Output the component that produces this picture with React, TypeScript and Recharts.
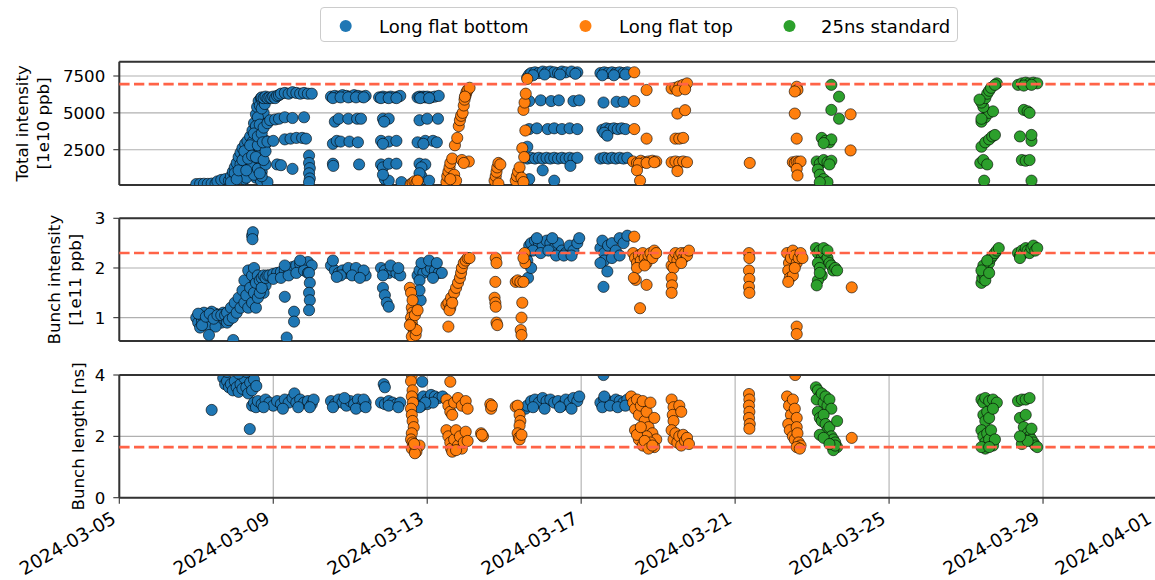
import React from 'react';
import { ScatterChart, Scatter, XAxis, YAxis, CartesianGrid, ReferenceLine } from 'recharts';

const FONT = '"DejaVu Sans", "Liberation Sans", sans-serif';
const FRAME = '#333333';
const GRID = '#b0b0b0';
const TARGET = '#ff6347';

// x values: days since 2024-03-05 00:00
const tickDays = [0, 4, 8, 12, 16, 20, 24, 27];
const tickLabels = [
  '2024-03-05', '2024-03-09', '2024-03-13', '2024-03-17',
  '2024-03-21', '2024-03-25', '2024-03-29', '2024-04-01',
];

const seriesNames = ['Long flat bottom', 'Long flat top', '25ns standard'];
const seriesColors = ['#1f77b4', '#ff7f0e', '#2ca02c'];

type Pt = [number, number];

// ---- Total intensity [1e10 ppb] ----
const lfbTotal: Pt[] = [
  [2.0, 170], [2.1, 180], [2.2, 190], [2.3, 180], [2.4, 200], [2.5, 190], [2.6, 220], [2.7, 250], [2.76, 300],
  [2.55, 350], [2.65, 450], [2.75, 500],
  [2.85, 400], [2.9, 700], [2.95, 1000], [3.0, 1300], [3.05, 1600], [3.1, 2000], [3.15, 2300], [3.2, 2600],
  [3.27, 2900], [3.33, 3100], [3.4, 3400], [3.46, 3800], [3.5, 4300], [3.55, 4900], [3.58, 5400], [3.62, 5800], [3.68, 6000],
  [3.0, 400], [3.1, 800], [3.2, 1200], [3.25, 500], [3.3, 1700], [3.35, 900], [3.4, 2200], [3.45, 1400], [3.5, 2700],
  [3.55, 600], [3.55, 3300], [3.6, 1900], [3.62, 3900], [3.65, 2500], [3.7, 4400], [3.7, 1000], [3.75, 3000], [3.75, 5000],
  [3.6, 4700], [3.55, 4100], [3.45, 3000], [3.35, 2500], [3.25, 2000], [3.15, 1500], [3.8, 3100], [3.8, 2900], [3.68, 400],
  [3.85, 300], [3.3, 600], [3.5, 800], [3.6, 1200], [3.7, 700], [3.8, 1500], [3.65, 5500], [3.72, 5800],
  [2.9, 300], [3.0, 900], [3.05, 500], [3.1, 1100], [3.2, 1800], [3.25, 2400], [3.3, 1100], [3.35, 1900], [3.4, 2800],
  [3.45, 2100], [3.5, 3600], [3.55, 2000], [3.6, 2800], [3.6, 3400], [3.65, 4200], [3.65, 900], [3.7, 3600], [3.7, 5300],
  [3.75, 4000], [3.75, 1800], [3.8, 2400], [3.78, 5600], [3.85, 4300],
  [3.7, 6050], [3.75, 6000], [3.8, 6100], [3.85, 6000], [3.9, 6050], [3.95, 6000], [4.0, 6100], [4.05, 6000], [4.1, 6150],
  [4.15, 6200], [4.2, 6300], [4.3, 6350], [4.4, 6300], [4.5, 6400], [4.6, 6350], [4.7, 6300], [4.8, 6350], [4.9, 6300], [5.0, 6300],
  [3.92, 4500], [4.05, 4550], [4.15, 4600], [4.3, 4700], [4.5, 4650], [4.8, 4700],
  [3.73, 3000], [3.85, 3050], [4.0, 3100], [4.3, 3200], [4.45, 3250], [4.6, 3300], [4.75, 3300], [4.85, 3250],
  [4.1, 1500], [4.2, 1450], [4.5, 1200],
  [4.93, 2100], [4.93, 1600], [4.95, 1250], [4.93, 900], [4.95, 550], [4.93, 300],
  [5.5, 6100], [5.6, 6150], [5.7, 6100], [5.8, 6200], [5.9, 6150], [6.0, 6100], [6.1, 6200], [6.2, 6150], [6.3, 6100], [6.4, 6150],
  [5.55, 6000], [5.75, 6050], [5.95, 6050], [6.15, 6050], [6.35, 6050],
  [5.6, 4400], [5.7, 4600], [5.95, 4600], [6.18, 4600], [6.28, 4600],
  [5.55, 2900], [5.65, 3100], [5.75, 3050], [5.98, 3050], [6.2, 3000],
  [5.55, 1550], [5.56, 1400], [6.23, 1500],
  [6.75, 6050], [6.85, 6100], [6.95, 6050], [7.05, 6100], [7.15, 6050], [7.25, 6100], [7.3, 6150], [6.8, 6000], [7.0, 6000], [7.2, 6000],
  [6.85, 4600], [7.0, 4600], [6.88, 4400],
  [6.8, 3100], [7.0, 3050], [7.2, 3100], [6.85, 2900],
  [6.8, 1500], [6.85, 1300], [7.0, 1550], [7.2, 1550],
  [6.9, 500], [7.0, 400], [7.33, 300], [6.85, 800],
  [7.75, 6050], [7.8, 6100], [7.85, 6050], [7.9, 6100], [7.95, 6050], [8.0, 6100], [8.1, 6050], [8.2, 6100], [8.3, 6150], [7.82, 6000], [8.05, 6000],
  [7.8, 4500], [8.0, 4600], [8.28, 4600],
  [7.75, 3000], [7.95, 3100], [8.15, 3100], [8.25, 3000], [7.9, 2900],
  [7.8, 1550], [7.95, 1500], [7.85, 1300],
  [7.85, 700], [8.05, 400], [7.8, 900], [7.75, 200],
  [10.6, 7400], [10.65, 7600], [10.7, 7700], [10.8, 7750], [10.9, 7700], [11.0, 7800], [11.1, 7750], [11.2, 7800], [11.3, 7750],
  [11.4, 7700], [11.5, 7800], [11.6, 7750], [11.75, 7800], [11.9, 7750], [10.75, 7550], [11.05, 7600], [11.45, 7600], [11.85, 7650],
  [12.5, 7700], [12.6, 7750], [12.7, 7700], [12.8, 7750], [12.9, 7700], [13.0, 7750], [13.1, 7700], [13.2, 7750],
  [12.55, 7550], [12.85, 7550], [13.15, 7600],
  [10.65, 5800], [10.95, 5850], [11.22, 5800], [11.42, 5850], [11.8, 5800], [11.95, 5850], [12.58, 5700], [12.92, 5750], [13.1, 5750],
  [10.65, 3900], [10.85, 3950], [11.13, 3900], [11.3, 3950], [11.5, 3900], [11.7, 3950], [11.9, 3900],
  [12.55, 3850], [12.65, 3950], [12.75, 3900], [12.85, 3950], [12.95, 3900], [13.05, 3950], [13.15, 3900], [12.6, 3650], [12.68, 3450],
  [10.6, 1900], [10.7, 1950], [10.8, 1900], [10.9, 1950], [11.0, 1900], [11.1, 1950], [11.2, 1900], [11.3, 1950], [11.4, 1900],
  [11.5, 1950], [11.6, 1900], [11.7, 1950], [11.8, 1900], [11.9, 1950], [12.5, 1900], [12.6, 1950], [12.7, 1900], [12.8, 1950],
  [12.9, 1900], [13.0, 1950], [13.1, 1900], [13.2, 1950], [11.72, 1400],
  [10.65, 500], [11.3, 400], [11.0, 1100], [10.6, 2700],
];

const lftTotal: Pt[] = [
  [7.57, 150], [7.62, 250], [7.67, 350], [7.72, 250], [7.75, 400],
  [8.5, 300], [8.52, 700], [8.55, 1000], [8.58, 1300], [8.6, 1600], [8.65, 1900], [8.7, 800], [8.75, 400], [8.6, 500],
  [8.72, 2800], [8.78, 3300], [8.82, 4100], [8.85, 4500], [8.88, 4800], [8.92, 5000], [8.95, 5500], [8.97, 5900],
  [9.0, 6200], [9.02, 6400], [9.05, 6550], [9.1, 6700], [8.98, 6100], [9.08, 1700], [8.9, 1800], [8.95, 1600],
  [9.75, 400], [9.78, 700], [9.8, 1000], [9.82, 1300], [9.85, 1600], [9.9, 1500], [9.85, 200],
  [10.3, 400], [10.33, 700], [10.36, 1000], [10.4, 1300], [10.45, 600], [10.5, 300], [10.47, 2600],
  [10.5, 5200], [10.53, 5700], [10.56, 6300], [10.6, 7300], [10.55, 3800], [10.52, 2000],
  [13.38, 7750], [13.38, 5800], [13.38, 3900], [13.7, 6550], [13.7, 3250],
  [13.35, 1700], [13.45, 1600], [13.55, 1750], [13.65, 1650], [13.75, 1700], [13.85, 1750], [13.95, 1700],
  [13.5, 1550], [13.7, 1600], [13.9, 1650], [13.45, 1100], [13.53, 400],
  [14.35, 6650], [14.45, 6700], [14.55, 6800], [14.65, 6900], [14.75, 7000], [14.5, 6500], [14.7, 6600],
  [14.5, 4950], [14.7, 5180], [14.45, 3250], [14.55, 3250], [14.65, 3300],
  [14.35, 1650], [14.45, 1700], [14.55, 1650], [14.65, 1700], [14.75, 1650], [14.5, 1050],
  [16.38, 1600],
  [17.6, 6770], [17.62, 6550], [17.55, 6450], [17.55, 4950], [17.6, 3250], [17.5, 1650], [17.55, 1600], [17.6, 1700],
  [17.65, 1650], [17.7, 1700], [17.6, 1200], [17.62, 750],
  [19.0, 4900], [19.0, 2450],
];

const stdTotal: Pt[] = [
  [18.5, 6900], [18.7, 6100], [18.5, 5200], [18.7, 4600],
  [18.25, 3300], [18.35, 3100], [18.45, 3000], [18.5, 3200], [18.3, 2950],
  [18.12, 1700], [18.2, 1550], [18.3, 1800], [18.4, 1650], [18.5, 1750], [18.45, 1500],
  [18.15, 1150], [18.2, 800], [18.3, 500], [18.4, 300], [18.2, 300],
  [22.47, 400], [22.37, 1600], [22.45, 1800], [22.55, 1500], [22.4, 2700], [22.5, 3000], [22.6, 3200], [22.68, 3400],
  [22.75, 3500], [22.4, 4400], [22.5, 4700], [22.6, 5000], [22.7, 5100], [22.45, 5400], [22.4, 5700], [22.5, 6000],
  [22.55, 6300], [22.6, 6500], [22.65, 6700], [22.8, 7000], [22.35, 5900], [22.4, 4600], [22.75, 6900],
  [23.35, 6900], [23.45, 7000], [23.55, 7050], [23.65, 7000], [23.75, 7050], [23.85, 7000], [23.5, 6850], [23.7, 6900],
  [23.5, 5200], [23.6, 5100], [23.65, 5000],
  [23.4, 3400], [23.7, 3100], [23.7, 3500],
  [23.45, 1800], [23.55, 1750], [23.65, 1800],
  [23.7, 400],
];

// ---- Bunch intensity [1e11 ppb] ----
const lfbBunch: Pt[] = [
  [2.0, 1.0], [2.05, 0.9], [2.1, 1.05], [2.15, 0.95], [2.2, 1.0], [2.25, 0.88], [2.3, 1.05], [2.35, 0.95], [2.4, 1.0],
  [2.45, 0.9], [2.5, 1.08], [2.55, 0.95], [2.6, 1.0], [2.65, 0.9], [2.7, 1.1], [2.75, 0.95], [2.1, 0.8], [2.3, 0.85],
  [2.5, 0.82], [2.2, 1.1], [2.4, 1.12], [2.33, 0.65], [2.96, 0.55],
  [2.05, 1.08], [2.15, 0.85], [2.25, 1.02], [2.35, 1.08], [2.45, 0.98], [2.55, 1.05], [2.65, 1.05], [2.75, 1.05],
  [2.8, 0.9], [2.9, 1.05], [3.0, 1.15], [3.1, 1.25], [3.2, 1.35], [3.3, 1.6], [3.4, 1.75], [3.5, 1.7], [3.6, 1.6],
  [3.7, 1.7], [3.8, 1.65], [3.75, 1.5],
  [2.8, 1.1], [2.85, 0.95], [2.9, 1.2], [2.95, 1.0], [3.0, 1.3], [3.05, 1.1], [3.1, 1.4], [3.15, 1.2], [3.2, 1.55],
  [3.25, 1.3], [3.25, 1.75], [3.3, 1.45], [3.35, 1.95], [3.35, 1.2], [3.4, 1.6], [3.45, 1.85], [3.45, 1.3], [3.5, 2.0],
  [3.5, 1.5], [3.55, 1.7], [3.55, 1.2], [3.6, 1.85], [3.6, 1.4], [3.65, 1.5], [3.65, 1.75], [3.7, 1.8], [3.7, 1.6],
  [3.75, 1.85], [3.8, 1.8], [3.85, 1.85],
  [3.45, 2.65], [3.47, 2.72], [3.46, 2.58],
  [3.9, 1.85], [4.0, 1.88], [4.1, 1.9], [4.2, 1.92], [4.3, 1.95], [4.4, 1.98], [4.5, 2.02], [4.6, 2.05], [4.7, 2.08],
  [4.8, 2.1], [4.9, 2.12], [5.0, 2.05], [4.0, 1.78], [4.2, 1.8], [4.4, 1.85], [4.6, 1.9], [4.8, 1.95], [4.3, 2.05],
  [4.7, 2.15], [4.9, 1.9],
  [4.3, 1.42], [4.54, 1.12], [4.54, 0.92], [4.35, 0.6],
  [4.93, 1.9], [4.95, 1.7], [4.93, 1.5], [4.95, 1.35], [4.93, 1.15],
  [5.5, 2.05], [5.6, 1.95], [5.7, 1.9], [5.8, 1.95], [5.9, 1.9], [6.0, 1.95], [6.1, 1.9], [6.2, 1.92], [6.3, 1.88],
  [6.4, 1.85], [5.55, 2.15], [5.75, 1.85], [5.95, 2.0], [6.15, 2.0], [6.35, 1.95], [5.65, 1.82], [6.05, 1.85], [6.25, 1.8],
  [6.8, 2.0], [6.9, 1.95], [7.0, 1.9], [7.1, 1.95], [7.2, 1.9], [7.3, 1.85], [6.85, 1.85], [7.05, 2.05], [7.25, 2.0],
  [6.85, 1.6], [6.9, 1.45], [6.95, 1.3], [7.0, 1.22],
  [7.75, 1.85], [7.8, 1.95], [7.9, 1.9], [8.0, 1.95], [8.1, 2.0], [8.2, 1.95], [8.3, 1.9], [8.38, 1.9], [7.85, 2.1],
  [8.05, 2.15], [8.25, 2.1], [7.8, 1.75], [8.15, 1.8], [7.83, 1.35], [7.8, 1.55],
  [10.6, 2.3], [10.65, 2.45], [10.7, 2.5], [10.8, 2.55], [10.9, 2.5], [11.0, 2.45], [11.1, 2.55], [11.2, 2.5], [11.3, 2.4],
  [11.4, 2.5], [11.5, 2.35], [11.6, 2.3], [11.7, 2.45], [11.8, 2.35], [11.9, 2.5], [11.95, 2.6], [10.75, 2.35],
  [10.95, 2.3], [11.15, 2.35], [11.35, 2.25], [11.55, 2.25], [11.75, 2.25], [10.85, 2.6], [11.25, 2.6], [10.6, 2.15],
  [10.62, 1.8], [10.7, 2.0],
  [12.5, 2.4], [12.55, 2.55], [12.6, 2.3], [12.7, 2.45], [12.8, 2.5], [12.9, 2.35], [13.0, 2.6], [13.1, 2.5], [13.2, 2.65],
  [12.6, 2.15], [12.8, 2.2], [13.0, 2.25], [12.5, 2.1], [12.68, 1.93], [12.58, 1.62],
];

const lftBunch: Pt[] = [
  [7.55, 1.6], [7.58, 1.5], [7.6, 1.2], [7.62, 1.1], [7.58, 1.0], [7.6, 0.9], [7.63, 0.8], [7.65, 0.7], [7.6, 0.62],
  [7.7, 0.65], [7.72, 0.75], [7.68, 1.05], [7.75, 1.15], [7.55, 0.85], [7.62, 1.35],
  [8.55, 0.82], [8.5, 1.25], [8.55, 1.3], [8.6, 1.2], [8.62, 1.4], [8.7, 1.5], [8.75, 1.6], [8.8, 1.7], [8.85, 1.8],
  [8.88, 1.9], [8.9, 2.0], [8.95, 2.1], [9.0, 2.15], [9.05, 2.2], [9.1, 2.2], [8.58, 1.15], [8.65, 1.3],
  [9.78, 2.2], [9.8, 2.1], [9.77, 1.72], [9.75, 1.4], [9.77, 1.3], [9.78, 1.22], [9.8, 0.9], [9.82, 0.85],
  [10.3, 1.72], [10.35, 1.75], [10.42, 1.72], [10.5, 1.72], [10.47, 1.3], [10.45, 1.0], [10.43, 0.75], [10.45, 0.65],
  [10.53, 2.3], [10.55, 2.1], [10.5, 2.2],
  [13.38, 2.63], [13.35, 2.3], [13.4, 2.2], [13.45, 2.1], [13.5, 2.25], [13.55, 2.15], [13.6, 2.3], [13.65, 2.2],
  [13.7, 2.1], [13.75, 2.25], [13.8, 2.3], [13.85, 2.2], [13.9, 2.35], [13.95, 2.3], [13.45, 2.0], [13.65, 2.05],
  [13.42, 1.76], [13.7, 1.66], [13.53, 1.19], [13.37, 1.8],
  [14.35, 2.05], [14.4, 2.2], [14.45, 2.3], [14.5, 2.15], [14.55, 2.25], [14.6, 2.3], [14.65, 2.2], [14.7, 2.3],
  [14.75, 2.25], [14.8, 2.35], [14.4, 2.0], [14.6, 2.1], [14.35, 1.8], [14.36, 1.65], [14.35, 1.5],
  [16.36, 2.3], [16.37, 2.2], [16.36, 1.95], [16.37, 1.78], [16.36, 1.62], [16.37, 1.5],
  [17.35, 2.3], [17.4, 2.1], [17.45, 2.2], [17.5, 2.35], [17.55, 2.25], [17.6, 2.1], [17.65, 2.2], [17.7, 2.3],
  [17.75, 2.2], [17.38, 1.95], [17.42, 1.8], [17.5, 1.85], [17.55, 2.0], [17.38, 1.72], [17.6, 0.82], [17.6, 0.67],
  [19.03, 1.61],
];

const stdBunch: Pt[] = [
  [18.1, 2.4], [18.15, 2.3], [18.2, 2.35], [18.25, 2.2], [18.3, 2.3], [18.35, 2.15], [18.4, 2.2], [18.45, 2.1],
  [18.5, 2.05], [18.55, 1.95], [18.6, 2.0], [18.65, 1.95], [18.15, 2.1], [18.2, 2.0], [18.25, 1.85], [18.15, 1.75],
  [18.12, 1.65], [18.2, 1.9], [18.3, 2.4], [18.4, 2.35],
  [22.4, 1.7], [22.42, 1.8], [22.45, 1.9], [22.48, 1.85], [22.5, 2.0], [22.55, 1.95], [22.6, 2.1], [22.65, 2.2],
  [22.7, 2.25], [22.75, 2.3], [22.8, 2.35], [22.85, 2.4], [22.45, 2.05], [22.55, 2.15], [22.4, 1.95], [22.5, 1.75], [22.6, 1.9],
  [23.35, 2.3], [23.4, 2.25], [23.45, 2.35], [23.5, 2.3], [23.55, 2.4], [23.6, 2.35], [23.65, 2.3], [23.7, 2.4],
  [23.75, 2.45], [23.8, 2.35], [23.85, 2.4], [23.4, 2.2],
];

// ---- Bunch length [ns] ----
const lfbLength: Pt[] = [
  [2.4, 2.86],
  [2.7, 3.9], [2.75, 3.7], [2.8, 3.8], [2.85, 3.6], [2.9, 3.7], [2.95, 3.5], [3.0, 3.8], [3.05, 3.6], [3.1, 3.45],
  [3.15, 3.7], [3.2, 3.55], [3.25, 3.9], [3.3, 3.6], [3.35, 3.4], [3.4, 3.75], [3.45, 3.5], [3.5, 3.85], [2.8, 4.1],
  [3.1, 4.05], [3.3, 4.1], [3.39, 2.24], [3.56, 3.64],
  [3.45, 3.0], [3.5, 3.1], [3.55, 2.95], [3.6, 3.15], [3.7, 3.05], [3.8, 3.2], [3.9, 3.1], [4.0, 3.0], [4.1, 3.15],
  [4.2, 3.05], [4.3, 3.2], [4.4, 3.1], [4.5, 3.25], [4.55, 3.4], [4.6, 3.1], [4.7, 3.2], [4.8, 3.1], [4.9, 3.15],
  [5.0, 3.05], [5.05, 3.2], [3.75, 2.95], [4.25, 2.9], [4.65, 2.95], [4.95, 2.95],
  [5.5, 3.15], [5.6, 3.05], [5.7, 3.2], [5.8, 3.1], [5.9, 3.0], [6.0, 3.15], [6.1, 3.05], [6.2, 3.2], [6.3, 3.0],
  [6.4, 3.1], [5.55, 2.95], [5.85, 3.25], [6.15, 2.9], [6.35, 3.2], [6.4, 2.95],
  [6.87, 3.7], [6.9, 3.6], [6.8, 3.1], [6.9, 3.05], [7.0, 3.15], [7.1, 3.1], [7.2, 3.05], [7.3, 3.1], [7.0, 3.0], [7.25, 2.95],
  [7.87, 3.78], [7.75, 3.1], [7.8, 3.2], [7.9, 3.3], [8.0, 3.2], [8.1, 3.35], [8.2, 3.3], [8.3, 3.25], [8.4, 3.3],
  [7.7, 3.0], [7.85, 3.0], [8.0, 3.05], [8.15, 3.1], [7.95, 3.1], [7.8, 2.95],
  [10.55, 2.9], [10.6, 3.0], [10.7, 3.15], [10.8, 3.2], [10.9, 3.1], [11.0, 3.25], [11.1, 3.15], [11.2, 3.2], [11.3, 3.1],
  [11.4, 3.15], [11.5, 3.0], [11.6, 3.2], [11.7, 3.1], [11.8, 3.25], [11.9, 3.15], [11.95, 3.3], [10.75, 2.95],
  [11.05, 2.9], [11.45, 2.95], [11.75, 2.9],
  [12.5, 3.1], [12.6, 3.2], [12.7, 3.15], [12.8, 3.1], [12.9, 3.2], [13.0, 3.15], [13.1, 3.1], [13.2, 3.2],
  [12.55, 2.95], [12.75, 3.0], [12.95, 2.95], [13.15, 3.0], [12.6, 3.3], [12.58, 4.0],
];

const lftLength: Pt[] = [
  [7.6, 4.0], [7.58, 3.8], [7.62, 3.5], [7.6, 3.3], [7.63, 3.1], [7.58, 2.9], [7.6, 2.7], [7.62, 2.5], [7.65, 2.3],
  [7.6, 2.1], [7.58, 1.9], [7.62, 1.8], [7.65, 1.7], [7.6, 1.6], [7.7, 1.55], [7.75, 1.65], [7.8, 1.7], [7.72, 1.5],
  [7.68, 1.45], [7.66, 1.75],
  [8.6, 3.78], [8.5, 3.2], [8.55, 3.0], [8.6, 2.8], [8.65, 2.7], [8.7, 3.1], [8.8, 3.25], [8.9, 3.0], [9.0, 3.15],
  [9.05, 2.9], [8.5, 2.2], [8.55, 2.0], [8.6, 1.8], [8.62, 1.6], [8.7, 1.9], [8.75, 2.2], [8.8, 1.7], [8.85, 2.0],
  [8.9, 1.6], [8.95, 1.8], [9.0, 2.15], [9.05, 1.85], [8.65, 1.5], [8.75, 1.55],
  [9.64, 3.05], [9.66, 2.9], [9.68, 3.0], [9.4, 2.1], [9.45, 2.0], [9.42, 2.05],
  [10.3, 2.97], [10.35, 3.0], [10.4, 2.7], [10.42, 2.5], [10.4, 2.35], [10.35, 2.1], [10.38, 1.95], [10.4, 1.9], [10.45, 2.05],
  [13.3, 3.3], [13.35, 3.1], [13.4, 2.9], [13.45, 3.2], [13.5, 2.7], [13.55, 3.0], [13.6, 3.15], [13.65, 2.5], [13.7, 2.8],
  [13.75, 2.3], [13.8, 3.1], [13.85, 2.1], [13.9, 2.6], [13.95, 1.9], [13.4, 2.2], [13.5, 1.9], [13.6, 1.7], [13.7, 2.0],
  [13.8, 1.8], [13.9, 1.65], [13.45, 2.05], [13.55, 2.3], [13.65, 1.85], [13.75, 1.6], [13.85, 1.7],
  [14.35, 3.2], [14.4, 2.95], [14.38, 2.7], [14.4, 2.5], [14.55, 3.0], [14.6, 2.8], [14.35, 2.2], [14.4, 1.9],
  [14.45, 2.1], [14.5, 1.8], [14.55, 2.0], [14.6, 1.7], [14.65, 2.05], [14.7, 1.85], [14.75, 1.95], [14.8, 1.75],
  [16.36, 3.38], [16.37, 3.2], [16.36, 3.0], [16.37, 2.8], [16.36, 2.6], [16.38, 2.4], [16.37, 2.25],
  [17.35, 3.3], [17.4, 3.0], [17.45, 2.7], [17.38, 2.4], [17.42, 2.2], [17.5, 3.2], [17.55, 2.9], [17.6, 2.6],
  [17.5, 2.0], [17.55, 1.9], [17.6, 2.3], [17.62, 2.1], [17.65, 1.8], [17.7, 1.7], [17.6, 1.65], [17.68, 1.6], [17.56, 4.0],
  [19.03, 1.95],
];

const stdLength: Pt[] = [
  [18.1, 3.6], [18.15, 3.5], [18.2, 3.3], [18.12, 3.2], [18.25, 3.4], [18.3, 3.1], [18.35, 3.3], [18.4, 3.0],
  [18.45, 3.2], [18.5, 2.9], [18.15, 2.8], [18.2, 2.6], [18.25, 2.5], [18.3, 2.7], [18.35, 2.4], [18.4, 2.2],
  [18.45, 2.3], [18.5, 2.0], [18.55, 1.9], [18.6, 1.8], [18.65, 1.65], [18.55, 1.55], [18.6, 1.7], [18.2, 2.05],
  [18.3, 1.95], [18.45, 1.75], [18.65, 2.5],
  [22.4, 3.2], [22.45, 3.1], [22.5, 3.25], [22.6, 3.15], [22.7, 3.2], [22.8, 3.1], [22.45, 2.7], [22.5, 2.5],
  [22.55, 2.8], [22.6, 2.6], [22.7, 2.9], [22.4, 2.2], [22.45, 2.0], [22.5, 1.8], [22.55, 2.1], [22.6, 1.9],
  [22.65, 2.2], [22.7, 1.7], [22.75, 1.9], [22.5, 1.6], [22.4, 1.65], [22.6, 1.65],
  [23.35, 3.15], [23.45, 3.2], [23.55, 3.2], [23.65, 3.25], [23.4, 2.6], [23.5, 2.3], [23.55, 2.7], [23.6, 2.1],
  [23.65, 2.0], [23.7, 1.9], [23.75, 1.8], [23.8, 1.7], [23.85, 1.65], [23.5, 1.9], [23.45, 1.75], [23.6, 1.85],
  [23.7, 2.25], [23.4, 2.0],
];

// target levels (dashed lines)
const totalTarget = 6950;
const bunchTarget = 2.3;
const lengthTarget = 1.65;

const W = 1170;
const H = 580;
const PLOT_LEFT = 119.3;
const PLOT_RIGHT = 1158.5;
const FS = 16.67;
const DATE_FS = 18.5;

type Title = { text: string; x: number };

type PanelProps = {
  top: number;
  bottom: number;
  domain: [number, number];
  ticks: number[];
  target: number;
  series: Pt[][];
  titles: Title[];
  showDates: boolean;
};

const DateTick = (props: any) => {
  const { x, payload } = props;
  const i = tickDays.indexOf(payload.value);
  const px = Math.min(x - 2, 1153);
  const py = 522;
  return (
    <text
      x={px}
      y={py}
      transform={`rotate(-30, ${px}, ${py})`}
      textAnchor="end"
      fontSize={DATE_FS}
      fontFamily={FONT}
      fill="#000"
    >
      {tickLabels[i]}
    </text>
  );
};

const makeDot = (color: string) => (p: any) => (
  <circle cx={p.cx} cy={p.cy} r={5.6} fill={color} stroke="#000" strokeWidth={0.6} />
);

function Panel({ top, bottom, domain, ticks, target, series, titles, showDates }: PanelProps) {
  const xAxisH = showDates ? 40 : 10;
  const cy = (top + bottom) / 2;
  return (
    <div style={{ position: 'absolute', left: 0, top: 0 }}>
      <ScatterChart
        width={W}
        height={H}
        margin={{ top, right: W - PLOT_RIGHT, bottom: H - bottom - xAxisH, left: 0 }}
      >
        <CartesianGrid stroke={GRID} strokeWidth={1.1} />
        <XAxis
          type="number"
          dataKey="x"
          domain={[0, 27]}
          ticks={tickDays}
          interval={0}
          allowDataOverflow
          height={xAxisH}
          axisLine={{ stroke: FRAME, strokeWidth: 2 }}
          tickLine={{ stroke: FRAME, strokeWidth: 1.1 }}
          tickSize={6}
          tick={showDates ? DateTick : false}
        />
        <YAxis
          type="number"
          dataKey="y"
          domain={domain}
          ticks={ticks}
          interval={0}
          allowDataOverflow
          width={PLOT_LEFT}
          axisLine={{ stroke: FRAME, strokeWidth: 2 }}
          tickLine={{ stroke: FRAME, strokeWidth: 1.1 }}
          tickSize={6}
          tickMargin={8}
          tick={{ fill: '#000', fontSize: FS, fontFamily: FONT }}
          label={{
            content: () => (
              <g>
                {titles.map((t) => (
                  <text
                    key={t.text}
                    x={t.x}
                    y={cy}
                    transform={`rotate(-90, ${t.x}, ${cy})`}
                    textAnchor="middle"
                    fontSize={FS}
                    fontFamily={FONT}
                    fill="#000"
                  >
                    {t.text}
                  </text>
                ))}
              </g>
            ),
          }}
        />
        {series.map((pts, i) => (
          <Scatter
            key={seriesNames[i]}
            name={seriesNames[i]}
            data={pts.map(([x, y]) => ({ x, y }))}
            fill={seriesColors[i]}
            shape={makeDot(seriesColors[i])}
            isAnimationActive={false}
          />
        ))}
        <ReferenceLine y={target} stroke={TARGET} strokeWidth={2.6} strokeDasharray="10.3 4.4" zIndex={700} />
        <ReferenceLine y={domain[1]} stroke={FRAME} strokeWidth={2} zIndex={700} />
      </ScatterChart>
    </div>
  );
}

function LegendBox() {
  const items = [
    { dot: 24.7, text: 58 },
    { dot: 264.5, text: 298 },
    { dot: 468.5, text: 500 },
  ];
  return (
    <div
      style={{
        position: 'absolute',
        left: 320,
        top: 7,
        width: 638,
        height: 35,
        boxSizing: 'border-box',
        border: '1px solid #cccccc',
        borderRadius: 4,
        background: '#fff',
      }}
    >
      <svg width={636} height={33} style={{ display: 'block' }}>
        {items.map((it, i) => (
          <g key={seriesNames[i]}>
            <circle cx={it.dot} cy={18} r={6} fill={seriesColors[i]} />
            <text x={it.text} y={24.5} fontSize={18} fontFamily={FONT} fill="#000">
              {seriesNames[i]}
            </text>
          </g>
        ))}
      </svg>
    </div>
  );
}

export default function App() {
  return (
    <div
      style={{
        position: 'fixed',
        left: 0,
        top: 0,
        width: 1155,
        height: 580,
        overflow: 'hidden',
        background: '#fff',
      }}
    >
      <Panel
        top={61.7}
        bottom={185}
        domain={[105, 8470]}
        ticks={[2500, 5000, 7500]}
        target={totalTarget}
        series={[lfbTotal, lftTotal, stdTotal]}
        titles={[
          { text: 'Total intensity', x: 28.5 },
          { text: '[1e10 ppb]', x: 49 },
        ]}
        showDates={false}
      />
      <Panel
        top={218.3}
        bottom={341}
        domain={[0.53, 3]}
        ticks={[1, 2, 3]}
        target={bunchTarget}
        series={[lfbBunch, lftBunch, stdBunch]}
        titles={[
          { text: 'Bunch intensity', x: 60.5 },
          { text: '[1e11 ppb]', x: 81 },
        ]}
        showDates={false}
      />
      <Panel
        top={375}
        bottom={497.7}
        domain={[0, 4]}
        ticks={[0, 2, 4]}
        target={lengthTarget}
        series={[lfbLength, lftLength, stdLength]}
        titles={[{ text: 'Bunch length [ns]', x: 84 }]}
        showDates
      />
      <LegendBox />
    </div>
  );
}
